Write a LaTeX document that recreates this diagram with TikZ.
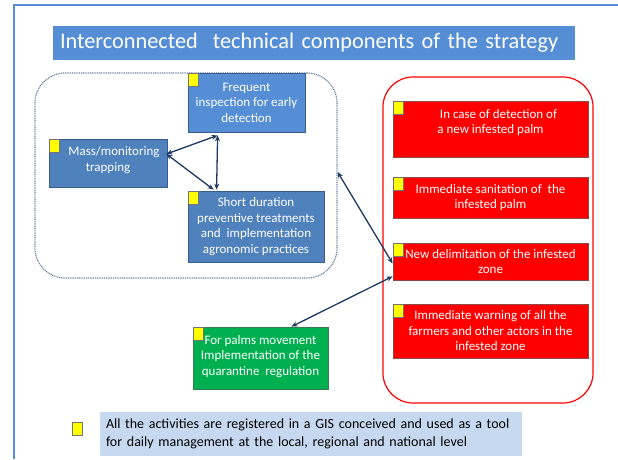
\documentclass[tikz,border=0pt]{standalone}
\usepackage{fontspec}
\setmainfont{Carlito}
\usetikzlibrary{calc,arrows.meta,positioning}

\definecolor{framecol}{HTML}{5B8BD9}
\definecolor{titlecol}{HTML}{558ED5}
\definecolor{compblue}{HTML}{4F81BD}
\definecolor{compedge}{HTML}{385D8A}
\definecolor{actred}{HTML}{FF0000}
\definecolor{actedge}{HTML}{8C4A4A}
\definecolor{quargreen}{HTML}{00B050}
\definecolor{quaredge}{HTML}{3A7A50}
\definecolor{gisblue}{HTML}{C6D9F1}
\definecolor{linkcol}{HTML}{1F3864}
\definecolor{zonecol}{HTML}{6F82A0}
\definecolor{markyellow}{HTML}{FFFF00}

\tikzset{
  boxtext/.style={font=\fontsize{13}{15.5}\selectfont, text=white, align=center, inner sep=0pt},
  bluebox/.style={boxtext, fill=compblue, draw=compedge, line width=0.8pt},
  redbox/.style={boxtext, fill=actred, draw=actedge, line width=0.8pt, minimum width=195},
  greenbox/.style={boxtext, fill=quargreen, draw=quaredge, line width=0.8pt},
  marker/.style={fill=markyellow, draw=black!55, line width=0.6pt, minimum width=10, minimum height=13, inner sep=0pt},
  link/.style={draw=linkcol, line width=1.3pt, >={Stealth[length=6pt,width=5pt]}, <->},
}

\begin{document}
\begin{tikzpicture}[x=1pt,y=-1pt]
    \useasboundingbox (0,0) rectangle (618,459);

    % frame and title
    \draw[framecol, line width=1.5pt] (14,459) -- (14,5) -- (618,5);
    \node[fill=titlecol, text=white, font=\fontsize{22.3}{26}\selectfont,
          minimum height=34, inner xsep=7pt, inner ysep=0pt, text width=508pt, align=left]
          (title) at (314,43) {Interconnected\ \ technical components of the strategy};

    % surveillance components
    \node[draw=zonecol, line width=1.2pt, dash pattern=on 1pt off 0.8pt, rounded corners=30pt,
          minimum width=302, minimum height=205] (zone) at (186,175.5) {};
    \node[bluebox, fill=titlecol, minimum width=117, minimum height=59] (freq) at (246.5,102.5)
        {Frequent\\inspection for early\\detection};
    \node[bluebox, minimum width=118, minimum height=48] (mass) at (108,163)
        {\hspace*{12pt}Mass/monitoring\\trapping\\[-7pt]\mbox{}};
    \node[bluebox, minimum width=136, minimum height=71] (short) at (256,226.5)
        {Short duration\\preventive treatments\\and\ \ implementation\\agronomic practices};

    % response to a new detection
    \node[draw=actred, line width=1.2pt, rounded corners=30pt,
          minimum width=210, minimum height=326] (resp) at (488,240) {};
    \node[redbox, minimum height=56] (det) at (490.5,129)
        {\hspace*{16pt}In case of detection of\\a new infested palm\\~};
    \node[redbox, minimum height=41] (san) at (490.5,197.5)
        {Immediate sanitation of\ \ the\\infested palm};
    \node[redbox, minimum height=37] (del) at (490.5,261.5)
        {New delimitation of the infested\\zone};
    \node[redbox, minimum height=54] (warn) at (490.5,331)
        {Immediate warning of all the\\farmers and other actors in the\\infested zone};

    \node[greenbox, minimum width=135, minimum height=62] (green) at (260.5,358)
        {For palms movement\\Implementation of the\\quarantine\ \ regulation\\[-10pt]\mbox{}};

    % GIS note
    \node[fill=gisblue, font=\fontsize{14}{18}\selectfont, minimum height=44,
          inner xsep=6pt, inner ysep=0pt, text width=410pt, align=left] (gis) at (311,434)
        {All the activities are registered in a GIS conceived and used as a tool\\
         for daily management at the local, regional and national level};
    \node[marker] (gismark) at (77,429) {};

    \foreach \b in {freq,mass,short,det,san,del,warn,green}
        \node[marker, anchor=north west] (\b-mark) at (\b.north west) {};

    % links
    \draw[link] ($(mass.east)+(-1,-9)$) -- ($(freq.south west)+(30,3)$);
    \draw[link] ($(mass.east)+(-1,-9)$) -- ($(short.north west)+(26,-1)$);
    \draw[link] ($(freq.south west)+(30,3)$) -- ($(short.north west)+(29,-1)$);
    \draw[link] ($(zone.east)+(0,-3.5)$) -- ($(del.west)+(0,2)$);
    \draw[link] ($(green.north)+(31,0)$) -- ($(del.south west)+(0,-4)$);
\end{tikzpicture}
\end{document}
